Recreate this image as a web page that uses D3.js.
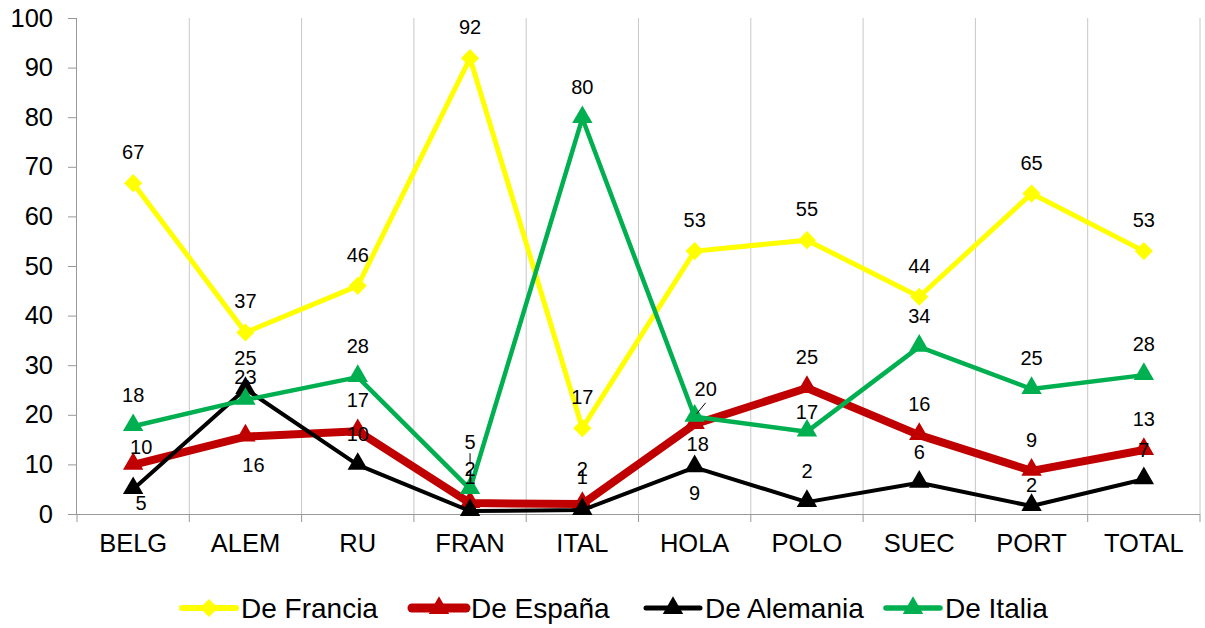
<!DOCTYPE html>
<html><head><meta charset="utf-8">
<script src="https://cdn.jsdelivr.net/npm/d3@7"></script>
<style>
body{margin:0;background:#fff;}
text{font-family:"Liberation Sans",Arial,sans-serif;fill:#000;}
</style></head>
<body><svg id="chart" width="1205" height="628"></svg>
<script>
const categories = ["BELG","ALEM","RU","FRAN","ITAL","HOLA","POLO","SUEC","PORT","TOTAL"];
const deFrancia  = [66.7,36.6,46.0,91.9,17.3,53.0,55.2,43.8,64.6,53.0];
const deEspana   = [9.9,15.6,16.7,2.2,2.0,18.1,25.4,15.9,8.7,12.9];
const deAlemania = [5.0,25.2,9.9,0.6,0.8,9.4,2.4,6.3,1.6,7.0];
const deItalia   = [17.7,23.0,27.6,5.0,79.8,19.6,16.6,33.7,25.2,28.0];
const yTicks = [0,10,20,30,40,50,60,70,80,90,100];

const series = [
  {name:"De Francia", values:deFrancia, color:"#FFFF00", width:5, marker:"diamond"},
  {name:"De España", values:deEspana, color:"#C00000", width:8, marker:"triangle"},
  {name:"De Alemania", values:deAlemania, color:"#000000", width:4, marker:"triangle"},
  {name:"De Italia", values:deItalia, color:"#00B050", width:4.5, marker:"triangle"}
];
// label nudges (dx, dy) relative to default "above" placement
const labelNudge = {
  "De España":  {0:[8,13],1:[8,59],3:[0,-3],4:[0,-4],5:[3,51]},
  "De Alemania":{0:[8,45],3:[0,-3],4:[0,-2],5:[0,57],8:[0,10],9:[0,2]},
  "De Italia":  {1:[0,8],3:[0,-16],5:[11,3],6:[0,11]}
};
const leaders = {"De Italia":{3:true,5:true}};

const svg = d3.select("#chart");
const m = {l:77, r:5, t:18, b:114};
const W = 1205, H = 628;
const x = d3.scaleBand().domain(categories).range([m.l, W - m.r]);
const y = d3.scaleLinear().domain([0,100]).range([H - m.b, m.t]);
const cx = c => x(c) + x.bandwidth()/2;

// vertical gridlines at category boundaries
const bounds = categories.map(c => x(c) + x.bandwidth());
svg.append("g").selectAll("line").data(bounds).join("line")
  .attr("x1",d=>d).attr("x2",d=>d).attr("y1",y(100)).attr("y2",y(0))
  .attr("stroke","#c8c8c8").attr("stroke-width",1);

// y axis
const ya = svg.append("g").attr("transform",`translate(${m.l},0)`)
  .call(d3.axisLeft(y).tickValues(yTicks).tickSize(9).tickPadding(15));
ya.select(".domain").attr("stroke","#999").attr("d",`M-0.5,${y(100)}V${y(0)}`);
ya.selectAll(".tick line").attr("stroke","#999");
ya.selectAll("text").style("font-size","25.5px").attr("font-family","Liberation Sans, Arial, sans-serif").attr("fill","#000");

// x axis
const xa = svg.append("g").attr("transform",`translate(0,${y(0)})`)
  .call(d3.axisBottom(x).tickSize(0).tickPadding(20));
xa.select(".domain").attr("stroke","#999").attr("d",`M${m.l},0.5H${W-m.r}`);
xa.selectAll("text").style("font-size","25.5px").attr("font-family","Liberation Sans, Arial, sans-serif").attr("fill","#000");
svg.append("g").selectAll("line").data([m.l, ...bounds]).join("line")
  .attr("x1",d=>d).attr("x2",d=>d).attr("y1",y(0)).attr("y2",y(0)+8)
  .attr("stroke","#999");

const line = d3.line().x((d,i)=>cx(categories[i])).y(d=>y(d));
const diamond = d3.symbol().type(d3.symbolSquare).size(165);
const tri = d3.symbol().type(d3.symbolTriangle).size(180);

series.forEach(s=>{
  const g = svg.append("g");
  g.append("path").attr("d",line(s.values)).attr("fill","none")
    .attr("stroke",s.color).attr("stroke-width",s.width).attr("stroke-linejoin","round");
  g.selectAll("path.mk").data(s.values).join("path").attr("class","mk")
    .attr("d", s.marker==="diamond" ? diamond : tri)
    .attr("transform",(d,i)=>`translate(${cx(categories[i])},${y(d)+(s.marker==="diamond"?0:-1)})` + (s.marker==="diamond"?" rotate(45)":""))
    .attr("fill",s.color);
});
// data labels
series.forEach(s=>{
  const nudges = labelNudge[s.name]||{};
  s.values.forEach((v,i)=>{
    const n = nudges[i]||[0,0];
    const lx = cx(categories[i]) + n[0];
    const ly = y(v) - 31 + n[1];
    svg.append("text").attr("x",lx).attr("y",ly).attr("text-anchor","middle")
      .attr("dominant-baseline","central").style("font-size","20px").text(Math.round(v));
    if (leaders[s.name] && leaders[s.name][i]) {
      if (categories[i]==="FRAN") {
        svg.append("line").attr("x1",lx).attr("x2",lx).attr("y1",ly+11).attr("y2",ly+22).attr("stroke","#000").attr("stroke-width",1);
      } else {
        svg.append("line").attr("x1",lx).attr("y1",ly+14).attr("x2",lx-9).attr("y2",ly+25).attr("stroke","#000").attr("stroke-width",1);
      }
    }
  });
});

// legend
const legendX = [182, 412, 646, 886];
const lg = svg.append("g");
series.forEach((s,i)=>{
  const lx = legendX[i], ly = 608;
  lg.append("line").attr("x1",lx).attr("x2",lx+54).attr("y1",ly).attr("y2",ly)
    .attr("stroke",s.color).attr("stroke-width",s.width+1).attr("stroke-linecap","round");
  lg.append("path").attr("d", s.marker==="diamond" ? diamond : tri)
    .attr("transform",`translate(${lx+27},${ly})` + (s.marker==="diamond"?" rotate(45)":"")).attr("fill",s.color);
  lg.append("text").attr("x",lx+59).attr("y",ly).attr("dominant-baseline","central")
    .style("font-size","28px").text(s.name);
});
</script></body></html>
